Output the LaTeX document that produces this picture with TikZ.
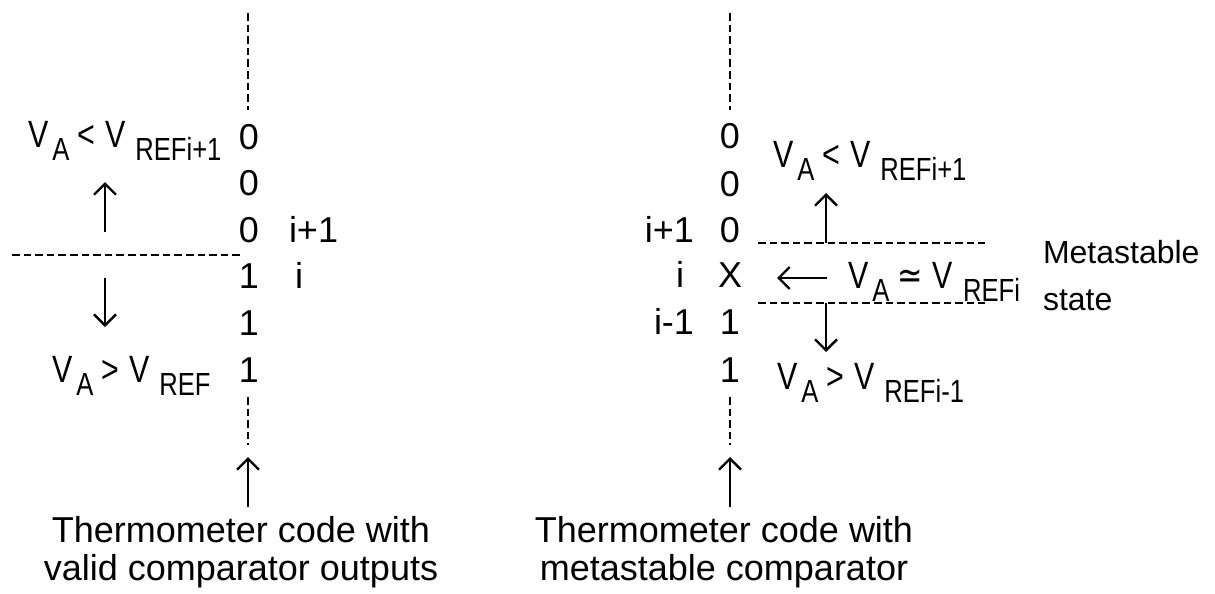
\documentclass[tikz,border=0pt]{standalone}
\usepackage{fontspec}
\setmainfont{Liberation Sans}
\newfontfamily\vfont[FakeStretch=0.8]{Liberation Sans}
\newfontfamily\dvfont[FakeStretch=0.8]{DejaVu Sans}
\usetikzlibrary{arrows.meta}
\newcommand{\sbs}[1]{\raisebox{-6.5pt}{\fontsize{16}{16}\selectfont #1}}
\newcommand{\vlab}[3]{{\vfont\fontsize{19}{19}\selectfont V\hspace{2pt}\sbs{#1}\hspace{4pt}#2\hspace{5pt}V\hspace{5pt}\sbs{#3}}}
\begin{document}
\begin{tikzpicture}[x=0.5pt,y=-0.5pt,
  txt/.style={inner sep=0pt,outer sep=0pt,font=\fontsize{18}{20}\selectfont},
  captxt/.style={inner sep=0pt,outer sep=0pt,font=\fontsize{18}{20}\selectfont},
  note/.style={inner sep=0pt,outer sep=0pt,font=\fontsize{16}{18}\selectfont},
  vl/.style={inner sep=0pt,outer sep=0pt},
  dline/.style={line width=1.3pt,dash pattern=on 3.8pt off 2pt},
  arr/.style={line width=1.2pt,-{Straight Barb[length=5.5pt,width=11pt,line width=1.2pt]}}]
\useasboundingbox (0,0) rectangle (1215,594);
% ---------- left column ----------
\foreach \n/\d/\y in {a1/0/149,a2/0/195,a3/0/242,a4/1/288,a5/1/335,a6/1/382}
  \node[txt,anchor=base] (\n) at (249,\y) {\d};
\coordinate (lt1) at (248,13);  \coordinate (lt2) at (248,110);
\coordinate (lb1) at (248,397); \coordinate (lb2) at (248,445);
\draw[dline] (lt1) -- (lt2);
\draw[dline] (lb1) -- (lb2);
\coordinate (lh1) at (12,255); \coordinate (lh2) at (240,255);
\draw[dline] (lh1) -- (lh2);
\node[txt,anchor=base west] (li1) at (289,242) {i+1};
\node[txt,anchor=base west] (li) at (295,288) {i};
\node[vl,anchor=base west] (lup) at (28,147) {\vlab{A}{<}{REFi+1}};
\node[vl,anchor=base west] (ldn) at (52,382) {\vlab{A}{>}{REF}};
\coordinate (lua) at (105,232); \coordinate (lub) at (105,182);
\draw[arr] (lua) -- (lub);
\coordinate (lda) at (105,278); \coordinate (ldb) at (105,327);
\draw[arr] (lda) -- (ldb);
\coordinate (lca) at (248,507); \coordinate (lcb) at (248,457);
\draw[arr] (lca) -- (lcb);
\node[captxt,anchor=base] (lcap1) at (241,542) {Thermometer code with};
\node[captxt,anchor=base] (lcap2) at (241,580) {valid comparator outputs};
% ---------- right column ----------
\foreach \n/\d/\y in {b1/0/148,b2/0/196,b3/0/242,b4/X/287,b5/1/334,b6/1/382}
  \node[txt,anchor=base] (\n) at (730,\y) {\d};
\coordinate (rt1) at (730,13);  \coordinate (rt2) at (730,110);
\coordinate (rb1) at (730,397); \coordinate (rb2) at (730,445);
\draw[dline] (rt1) -- (rt2);
\draw[dline] (rb1) -- (rb2);
\node[txt,anchor=base east] (ri1) at (694,242) {i+1};
\node[txt,anchor=base east] (ri) at (684,287) {i};
\node[txt,anchor=base east] (rim) at (694,334) {i-1};
\coordinate (rh1) at (758,243); \coordinate (rh2) at (985,243);
\coordinate (rh3) at (758,303); \coordinate (rh4) at (985,303);
\draw[dline] (rh1) -- (rh2);
\draw[dline] (rh3) -- (rh4);
\coordinate (rua) at (826,243); \coordinate (rub) at (826,193);
\draw[arr] (rua) -- (rub);
\coordinate (rda) at (826,303); \coordinate (rdb) at (826,352);
\draw[arr] (rda) -- (rdb);
\coordinate (rla) at (827,278); \coordinate (rlb) at (777,278);
\draw[arr] (rla) -- (rlb);
\node[vl,anchor=base west] (rup) at (773,167) {\vlab{A}{<}{REFi+1}};
\node[vl,anchor=base west] (req) at (848,288) {\vlab{A}{{\dvfont ≃}}{REFi}};
\node[vl,anchor=base west] (rdn) at (777,389) {\vlab{A}{>}{REFi-1}};
\node[note,anchor=base west] (meta) at (1043,263) {Metastable};
\node[note,anchor=base west] (state) at (1043,310) {state};
\coordinate (rca) at (730,507); \coordinate (rcb) at (730,457);
\draw[arr] (rca) -- (rcb);
\node[captxt,anchor=base] (rcap1) at (724,542) {Thermometer code with};
\node[captxt,anchor=base] (rcap2) at (724,580) {metastable comparator};
\end{tikzpicture}
\end{document}
